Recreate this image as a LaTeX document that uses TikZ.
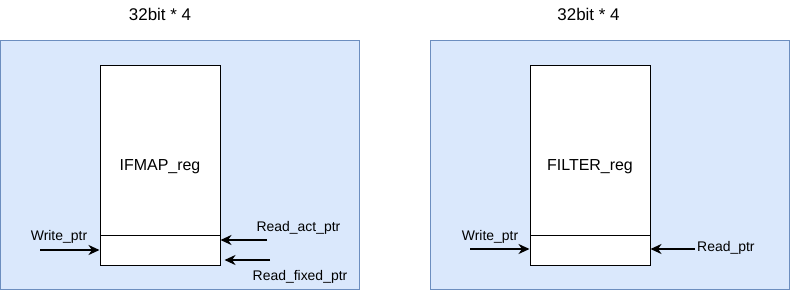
\documentclass[tikz,border=0pt]{standalone}
\usepackage{fontspec}
\setmainfont{Liberation Sans}
\usetikzlibrary{arrows.meta}
\definecolor{panelfill}{HTML}{DAE8FC}
\definecolor{paneldraw}{HTML}{6C8EBF}
\begin{document}
\begin{tikzpicture}[x=1bp,y=-1bp,
  panel/.style={draw=paneldraw,fill=panelfill,line width=1bp,minimum width=359bp,minimum height=249bp,inner sep=0pt},
  regbox/.style={draw=black,fill=white,line width=1bp,minimum width=120bp,inner sep=0pt},
  lbl/.style={anchor=base,inner sep=0pt,font=\fontsize{14}{16}\selectfont},
  ptr/.style={line width=2bp,-{Stealth[length=11bp,width=10bp,inset=3.5bp]}}]
\useasboundingbox (0,0) rectangle (791,291);
% IFMAP side
\node[panel] (ifpanel) at (180,165) {};
\node[lbl,font=\fontsize{17}{20}\selectfont] (iftitle) at (160,20.5) {32bit * 4};
\node[regbox,minimum height=170bp] (ifreg) at (160,150) {};
\node[regbox,minimum height=30bp] (ifslot) at (160,250) {};
\node[lbl,font=\fontsize{16}{19}\selectfont] (ifname) at (160,170.5) {IFMAP\_reg};
\coordinate (ifwr) at (40,250);
\coordinate (ifrda) at (267,240);
\coordinate (ifrdf) at (270,260);
\draw[ptr] (ifwr) -- (ifslot.west);
\draw[ptr] (ifrda) -- (ifrda -| ifslot.east);
\draw[ptr,shorten >=4bp] (ifrdf) -- (ifrdf -| ifslot.east);
\node[lbl] (ifwrl) at (59,240.7) {Write\_ptr};
\node[lbl] (ifrdal) at (298.5,231.7) {Read\_act\_ptr};
\node[lbl] (ifrdfl) at (300,280.7) {Read\_fixed\_ptr};
% FILTER side
\node[panel] (fpanel) at (610,165) {};
\node[lbl,font=\fontsize{17}{20}\selectfont] (ftitle) at (588.5,20.5) {32bit * 4};
\node[regbox,minimum height=170bp] (freg) at (590,150) {};
\node[regbox,minimum height=30bp] (fslot) at (590,250) {};
\node[lbl,font=\fontsize{16}{19}\selectfont] (fname) at (590,170) {FILTER\_reg};
\coordinate (fwr) at (470,249);
\coordinate (frd) at (695,249);
\draw[ptr] (fwr) -- (fwr -| fslot.west);
\draw[ptr] (frd) -- (frd -| fslot.east);
\node[lbl] (fwrl) at (490,240.7) {Write\_ptr};
\node[lbl,anchor=base west] (frdl) at (697,251.7) {Read\_ptr};
\end{tikzpicture}
\end{document}
